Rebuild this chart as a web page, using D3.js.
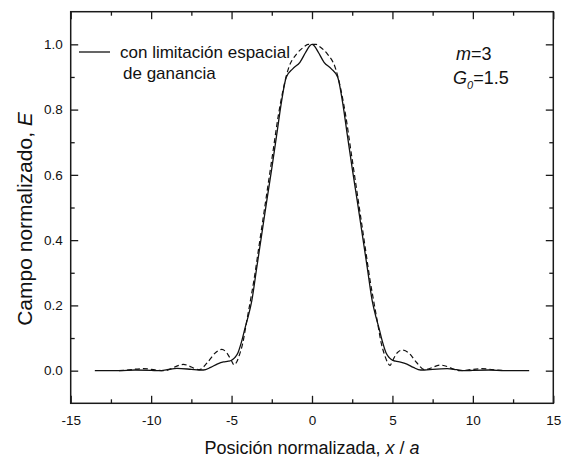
<!DOCTYPE html>
<html>
<head>
<meta charset="utf-8">
<script src="https://cdn.jsdelivr.net/npm/d3@7/dist/d3.min.js"></script>
<style>
  html, body { margin: 0; padding: 0; background: #fff; }
  svg { display: block; }
  text { font-family: "Liberation Sans", Arial, sans-serif; fill: #111; }
</style>
</head>
<body>
<svg id="chart" width="567" height="459"></svg>
<script>
// ---- data ----
const solidX = [-13.5, -12, -11, -10, -9.5, -9, -8.4, -7.5, -7.0, -6.75, -6.3, -5.9, -5.5, -5.2, -5.0, -4.8, -4.6, -4.4, -4.16, -4.0, -3.75, -3.44, -3.13, -2.82, -2.5, -2.2, -1.9, -1.6, -1.2, -0.75, -0.4, -0.15, 0,
                0.15, 0.4, 0.75, 1.2, 1.6, 1.9, 2.2, 2.5, 2.82, 3.13, 3.44, 3.75, 4.0, 4.16, 4.4, 4.6, 4.8, 5.0, 5.2, 5.5, 5.9, 6.3, 6.75, 7.0, 7.5, 8.4, 9, 9.5, 10, 11, 12, 13.5];
const solidY = [0, 0, 0.002, 0.001, 0.0, 0.003, 0.007, 0.004, 0.002, 0.002, 0.01, 0.02, 0.027, 0.029, 0.032, 0.04, 0.055, 0.085, 0.131, 0.16, 0.212, 0.314, 0.416, 0.518, 0.62, 0.721, 0.823, 0.899, 0.925, 0.945, 0.975, 0.995, 1.0,
                0.995, 0.975, 0.945, 0.925, 0.899, 0.823, 0.721, 0.62, 0.518, 0.416, 0.314, 0.212, 0.16, 0.131, 0.085, 0.055, 0.04, 0.032, 0.029, 0.026, 0.02, 0.01, 0.002, 0.002, 0.004, 0.006, 0.003, 0.0, 0.001, 0.002, 0, 0];

const dashX = [-12, -11.5, -10.5, -9.2, -8.0, -7.0, -6.5, -6.0, -5.6, -5.3, -5.0, -4.85, -4.7, -4.5, -4.3, -4.1, -3.9, -3.6, -3.3, -3.0, -2.7, -2.4, -2.1, -1.8, -1.47, -0.95, -0.5, -0.25, 0,
               0.25, 0.5, 0.95, 1.47, 1.8, 2.1, 2.4, 2.7, 3.0, 3.3, 3.6, 3.9, 4.1, 4.3, 4.5, 4.7, 4.85, 5.0, 5.3, 5.6, 6.0, 6.5, 7.0, 8.0, 9.2, 10.5, 11.5, 12];
const dashY = [0.0, 0.002, 0.006, 0.0, 0.019, 0.003, 0.025, 0.055, 0.065, 0.055, 0.03, 0.018, 0.025, 0.05, 0.085, 0.14, 0.195, 0.28, 0.38, 0.48, 0.58, 0.68, 0.78, 0.86, 0.925, 0.971, 0.992, 1.0, 1.0,
               1.0, 0.992, 0.971, 0.925, 0.86, 0.78, 0.68, 0.58, 0.48, 0.38, 0.28, 0.195, 0.14, 0.085, 0.05, 0.025, 0.016, 0.03, 0.055, 0.063, 0.055, 0.025, 0.003, 0.017, 0.0, 0.006, 0.002, 0.0];

const xMajor = [-15, -10, -5, 0, 5, 10, 15];
const xMinor = [-12.5, -7.5, -2.5, 2.5, 7.5, 12.5];
const yMajor = [0.0, 0.2, 0.4, 0.6, 0.8, 1.0];
const yMinor = [0.1, 0.3, 0.5, 0.7, 0.9];
const xTickLabels = ["-15", "-10", "-5", "0", "5", "10", "15"];
const yTickLabels = ["0.0", "0.2", "0.4", "0.6", "0.8", "1.0"];

const legendText = ["con limitación espacial", "de ganancia"];

// ---- layout ----
const svg = d3.select("#chart");
const L = 70.7, R = 553.3, T = 11.7, B = 403.3;
const x = d3.scaleLinear().domain([-15, 15]).range([L, R]);
const y = d3.scaleLinear().domain([-0.1, 1.1]).range([B, T]);
const ink = "#1a1a1a";

function styleAxis(g) {
  g.select(".domain").remove();
  g.selectAll(".tick line").attr("stroke", ink).attr("stroke-width", 1.3);
  g.selectAll(".tick text").attr("font-size", 13.5).attr("fill", "#111")
    .attr("font-family", '"Liberation Sans", Arial, sans-serif');
}

// bottom
svg.append("g").attr("transform", `translate(0,${B})`)
  .call(d3.axisBottom(x).tickValues(xMajor).tickSizeInner(-7.5).tickSizeOuter(0).tickPadding(12)
        .tickFormat((d, i) => xTickLabels[i]))
  .call(styleAxis);
svg.append("g").attr("transform", `translate(0,${B})`)
  .call(d3.axisBottom(x).tickValues(xMinor).tickSizeInner(-4).tickSizeOuter(0).tickFormat(""))
  .call(styleAxis);
// top
svg.append("g").attr("transform", `translate(0,${T})`)
  .call(d3.axisTop(x).tickValues(xMajor).tickSizeInner(-7.5).tickSizeOuter(0).tickFormat(""))
  .call(styleAxis);
svg.append("g").attr("transform", `translate(0,${T})`)
  .call(d3.axisTop(x).tickValues(xMinor).tickSizeInner(-4).tickSizeOuter(0).tickFormat(""))
  .call(styleAxis);
// left
svg.append("g").attr("transform", `translate(${L},0)`)
  .call(d3.axisLeft(y).tickValues(yMajor).tickSizeInner(-7.5).tickSizeOuter(0).tickPadding(8)
        .tickFormat((d, i) => yTickLabels[i]))
  .call(styleAxis);
svg.append("g").attr("transform", `translate(${L},0)`)
  .call(d3.axisLeft(y).tickValues(yMinor).tickSizeInner(-4).tickSizeOuter(0).tickFormat(""))
  .call(styleAxis);
// right
svg.append("g").attr("transform", `translate(${R},0)`)
  .call(d3.axisRight(y).tickValues(yMajor).tickSizeInner(-7.5).tickSizeOuter(0).tickFormat(""))
  .call(styleAxis);
svg.append("g").attr("transform", `translate(${R},0)`)
  .call(d3.axisRight(y).tickValues(yMinor).tickSizeInner(-4).tickSizeOuter(0).tickFormat(""))
  .call(styleAxis);

// frame
svg.append("rect").attr("x", L).attr("y", T).attr("width", R - L).attr("height", B - T)
  .attr("fill", "none").attr("stroke", ink).attr("stroke-width", 1.5);

// curves
const line = d3.line().x(d => x(d[0])).y(d => y(d[1])).curve(d3.curveMonotoneX);
const dashData = dashX.map((v, i) => [v, dashY[i]]);
const solidData = solidX.map((v, i) => [v, solidY[i]]);

svg.append("path").datum(dashData).attr("d", line)
  .attr("fill", "none").attr("stroke", "#111").attr("stroke-width", 1.2)
  .attr("stroke-dasharray", "5,3");
svg.append("path").datum(solidData).attr("d", line)
  .attr("fill", "none").attr("stroke", "#111").attr("stroke-width", 1.3);

// legend
svg.append("line").attr("x1", 79).attr("x2", 110).attr("y1", 52).attr("y2", 52)
  .attr("stroke", "#111").attr("stroke-width", 1.3);
svg.append("text").attr("x", 120).attr("y", 58).attr("font-size", 17).text(legendText[0]);
svg.append("text").attr("x", 123).attr("y", 79).attr("font-size", 17).text(legendText[1]);

// annotation
const a1 = svg.append("text").attr("x", 456).attr("y", 60).attr("font-size", 18);
a1.append("tspan").attr("font-style", "italic").text("m");
a1.append("tspan").text("=3");
const a2 = svg.append("text").attr("x", 453).attr("y", 84).attr("font-size", 18);
a2.append("tspan").attr("font-style", "italic").text("G");
a2.append("tspan").attr("font-style", "italic").attr("font-size", 11).attr("dy", 5).text("0");
a2.append("tspan").attr("dy", -5).text("=1.5");

// axis titles
const xt = svg.append("text").attr("x", (L + R) / 2).attr("y", 454).attr("text-anchor", "middle").attr("font-size", 18);
xt.append("tspan").text("Posición normalizada, ");
xt.append("tspan").attr("font-style", "italic").text("x");
xt.append("tspan").text(" / ");
xt.append("tspan").attr("font-style", "italic").text("a");

const yt = svg.append("text").attr("transform", "translate(32,219) rotate(-90)").attr("text-anchor", "middle").attr("font-size", 21);
yt.append("tspan").text("Campo normalizado, ");
yt.append("tspan").attr("font-style", "italic").text("E");
</script>
</body>
</html>
